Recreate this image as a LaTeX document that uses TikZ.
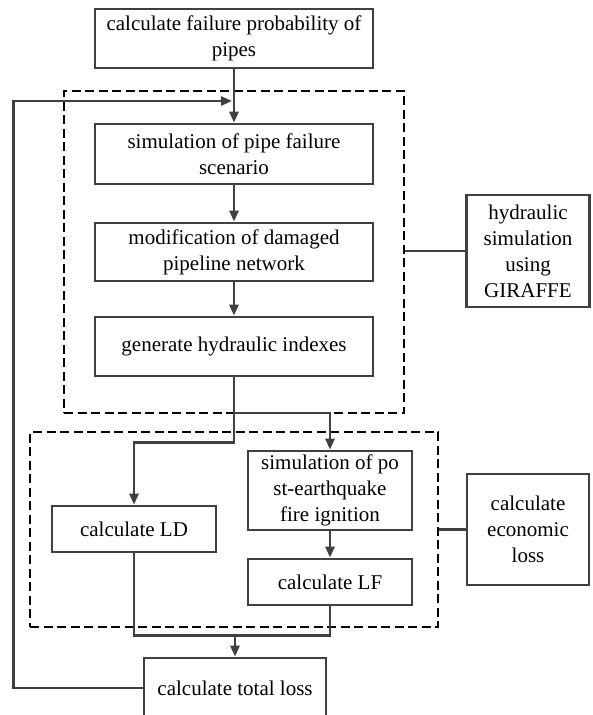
\documentclass[tikz,border=0pt]{standalone}
\usepackage{fontspec}
\setmainfont{Liberation Serif}
\usetikzlibrary{arrows.meta}
\definecolor{linec}{HTML}{404040}
\begin{document}
\begin{tikzpicture}[x=1pt,y=-1pt,
  box/.style={draw=linec, line width=2.7pt, align=center, inner sep=0pt,
    font=\fontsize{21}{26}\selectfont},
  dashbox/.style={draw=black, line width=2.8pt, dash pattern=on 9pt off 4.5pt, inner sep=0pt},
  conn/.style={draw=linec, line width=2.7pt},
  arr/.style={conn, -{Triangle[length=11pt,width=9pt]}}]
\useasboundingbox (0,0) rectangle (592,715);

% dashed groups
\node[dashbox, minimum width=340pt, minimum height=322pt] (d1) at (234,252) {};
\node[dashbox, minimum width=408pt, minimum height=195pt] (d2) at (234,529.5) {};

% boxes
\node[box, minimum width=278pt, minimum height=59pt] (top) at (234,38.5) {calculate failure probability of\\pipes};
\node[box, minimum width=278pt, minimum height=60pt] (sim) at (234,154) {simulation of pipe failure\\scenario};
\node[box, minimum width=278pt, minimum height=58pt] (mod) at (234,252) {modification of damaged\\pipeline network};
\node[box, minimum width=278pt, minimum height=59pt] (gen) at (234,346.5) {generate hydraulic indexes};
\node[box, minimum width=123pt, minimum height=112pt] (hyd) at (528,251) {hydraulic\\simulation\\using\\GIRAFFE};
\node[box, minimum width=164pt, minimum height=46pt] (ld) at (134,529) {calculate LD};
\node[box, minimum width=164pt, minimum height=79pt] (fire) at (330,490.5) {simulation of po\\st-earthquake\\fire ignition};
\node[box, minimum width=164pt, minimum height=46pt] (lf) at (330,582) {calculate LF};
\node[box, minimum width=122pt, minimum height=111pt] (eco) at (528,529.5) {calculate\\economic\\loss};
\node[box, minimum width=182pt, minimum height=60pt] (total) at (235,688) {calculate total loss};

% auxiliary points
\coordinate (fb) at (232,101);
\coordinate (br) at (234,413);
\coordinate (join) at (235,635);

% connectors
\draw[arr] (top.south) -- (sim.north);
\draw[arr] (sim.south) -- (mod.north);
\draw[arr] (mod.south) -- (gen.north);
\draw[arr] (total.west) -- ++(-129,0) |- (fb);
\draw[arr] (gen.south) -- ++(0,65) -| (ld.north);
\draw[arr] (br) -| (fire.north);
\draw[arr] (fire.south) -- (lf.north);
\draw[conn] (ld.south) -- ++(0,82) -| (lf.south);
\draw[arr] (join) -- (total.north);
\draw[conn] (d1.east |- hyd.west) -- (hyd.west);
\draw[conn] (d2.east |- eco.west) -- (eco.west);
\end{tikzpicture}
\end{document}
